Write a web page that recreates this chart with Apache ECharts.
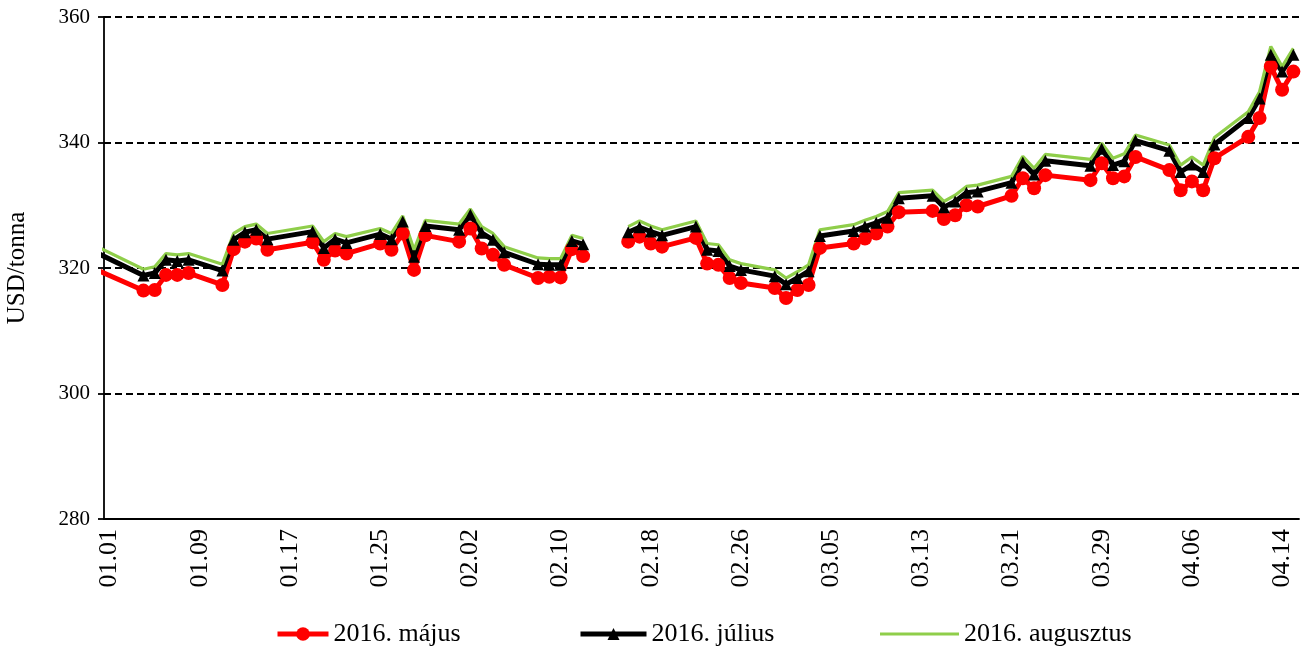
<!DOCTYPE html>
<html>
<head>
<meta charset="utf-8">
<script src="https://cdn.jsdelivr.net/npm/echarts@6/dist/echarts.min.js"></script>
<style>
html, body { margin: 0; padding: 0; background: #fff; }
#chart { width: 1304px; height: 656px; }
</style>
</head>
<body>
<div id="chart"></div>
<script>
// kereskedési napok (12.31 = előző év utolsó napja, a tengely előtt)
var tradeDates = ['12.31','01.04','01.05','01.06','01.07','01.08','01.11','01.12','01.13','01.14','01.15',
	'01.19','01.20','01.21','01.22','01.25','01.26','01.27','01.28','01.29',
	'02.01','02.02','02.03','02.04','02.05','02.08','02.09','02.10','02.11','02.12','02.15',
	'02.16','02.17','02.18','02.19','02.22','02.23','02.24','02.25','02.26','02.29',
	'03.01','03.02','03.03','03.04','03.07','03.08','03.09','03.10','03.11',
	'03.14','03.15','03.16','03.17','03.18','03.21','03.22','03.23','03.24','03.28','03.29','03.30','03.31',
	'04.01','04.04','04.05','04.06','04.07','04.08','04.11','04.12','04.13','04.14','04.15'];

var majus = [319.6,316.4,316.5,318.9,318.9,319.2,317.3,323.0,324.2,324.7,322.9,
	324.1,321.3,322.8,322.3,323.9,322.9,325.5,319.7,325.2,
	324.2,326.3,323.1,322.1,320.5,318.4,318.6,318.5,323.0,321.9,null,
	324.2,325.0,323.9,323.4,324.8,320.7,320.5,318.4,317.6,316.8,
	315.2,316.5,317.3,323.2,323.9,324.7,325.5,326.6,328.9,
	329.1,327.8,328.4,330.0,329.8,331.5,334.3,332.7,334.8,334.0,336.7,334.3,334.6,
	337.7,335.6,332.4,333.8,332.4,337.5,340.9,343.9,352.1,348.4,351.3];

var julius = [322.3,318.8,319.2,321.3,321.1,321.3,319.6,324.5,325.7,326.1,324.6,
	325.8,323.2,324.6,324.0,325.4,324.6,327.4,321.8,326.7,
	326.1,328.5,325.6,324.5,322.5,320.6,320.5,320.5,324.3,323.8,null,
	325.7,326.5,325.8,325.2,326.6,322.9,322.7,320.3,319.7,318.7,
	317.4,318.4,319.5,325.1,325.9,326.6,327.2,328.0,331.1,
	331.5,329.7,330.6,332.0,332.2,333.6,336.8,334.9,337.1,336.3,339.0,336.4,337.0,
	340.3,338.7,335.3,336.5,335.3,339.7,343.9,347.0,354.0,351.3,354.0];

var augusztus = [323.3,319.8,320.2,322.3,322.1,322.3,320.6,325.5,326.6,327.0,325.5,
	326.7,324.2,325.5,325.0,326.3,325.5,328.3,322.9,327.6,
	327.0,329.4,326.6,325.5,323.4,321.6,321.5,321.5,325.2,324.7,null,
	326.6,327.5,326.7,326.1,327.5,323.9,323.7,321.3,320.7,319.7,
	318.4,319.4,320.5,326.1,326.9,327.6,328.2,329.0,332.0,
	332.4,330.6,331.6,333.0,333.2,334.6,337.8,335.9,338.1,337.3,339.9,337.5,338.2,
	341.2,339.6,336.4,337.7,336.4,340.8,344.9,348.1,355.3,352.1,355.0];

var seriesNames = ['2016. május', '2016. július', '2016. augusztus'];
var yTicks = { min: 280, max: 360, step: 20 };

var fontFamily = '"Liberation Serif", "Times New Roman", serif';

var lineChart = {
	dayCount: 106,
	/**
	 * napok címkéi 01.01 - 04.15
	 */
	dayLabels: function() {
		var labels = [];
		for (var i = 0; i < lineChart.dayCount; i++) {
			var d = new Date(Date.UTC(2016, 0, 1 + i));
			var m = d.getUTCMonth() + 1, n = d.getUTCDate();
			labels.push((m < 10 ? '0' : '') + m + '.' + (n < 10 ? '0' : '') + n);
		}
		return labels;
	},
	/**
	 * dátum -> nap sorszáma (01.01 = 0)
	 */
	dayIndex: function(s) {
		var p = s.split('.');
		var m = +p[0], d = +p[1];
		var y = m == 12 ? 2015 : 2016;
		return (Date.UTC(y, m - 1, d) - Date.UTC(2016, 0, 1)) / 86400000;
	},
	toPairs: function(values) {
		var ret = [];
		for (var i = 0; i < tradeDates.length; i++) {
			ret.push([lineChart.dayIndex(tradeDates[i]) + 0.5, values[i] == null ? '-' : values[i]]);
		}
		return ret;
	},
	legendItem: function(item, left, width, height) {
		return {
			data: [item],
			left: left,
			top: 621,
			padding: 0,
			itemWidth: width,
			itemHeight: height,
			lineStyle: { width: 5 },
			textStyle: { fontFamily: fontFamily, fontSize: 26, color: '#000' }
		};
	},
	show: function() {
		var myChart = echarts.init(document.getElementById('chart'));
		var option = {
			animation: false,
			backgroundColor: '#fff',
			grid: { left: 104, right: 5, top: 17, bottom: 137, containLabel: false, outerBoundsMode: 'none' },
			legend: [
				lineChart.legendItem({ name: seriesNames[0] }, 275, 51, 17),
				lineChart.legendItem({ name: seriesNames[1] }, 578, 66, 15),
				lineChart.legendItem({ name: seriesNames[2], icon: 'rect' }, 880, 79, 3)
			],
			xAxis: [
				{
					type: 'category',
					data: lineChart.dayLabels(),
					boundaryGap: true,
					axisLine: { lineStyle: { color: '#000', width: 1.8 } },
					axisTick: { interval: 7, length: 6, lineStyle: { color: '#000', width: 1.8 } },
					axisLabel: {
						interval: 7, rotate: 90, margin: 10,
						color: '#000', fontFamily: fontFamily, fontSize: 26
					},
					splitLine: { show: false }
				},
				{
					type: 'value',
					min: 0,
					max: lineChart.dayCount,
					show: false
				}
			],
			yAxis: {
				type: 'value',
				min: yTicks.min,
				max: yTicks.max,
				interval: yTicks.step,
				name: 'USD/tonna',
				nameLocation: 'middle',
				nameGap: 74,
				nameRotate: 90,
				nameTextStyle: { color: '#000', fontFamily: fontFamily, fontSize: 25 },
				axisLine: { show: true, lineStyle: { color: '#000', width: 1.8 } },
				axisTick: { show: true, length: 6, lineStyle: { color: '#000', width: 1.8 } },
				axisLabel: { color: '#000', fontFamily: fontFamily, fontSize: 21, margin: 14 },
				splitLine: { lineStyle: { color: '#000', width: 1.8, type: [7, 4] } }
			},
			series: [
				{
					name: seriesNames[0],
					type: 'line',
					xAxisIndex: 1,
					data: lineChart.toPairs(majus),
					color: '#ff0000',
					lineStyle: { width: 5 },
					symbol: 'circle',
					symbolSize: 14,
					itemStyle: { color: '#ff0000' }
				},
				{
					name: seriesNames[1],
					type: 'line',
					xAxisIndex: 1,
					data: lineChart.toPairs(julius),
					color: '#000',
					lineStyle: { width: 5 },
					symbol: 'triangle',
					symbolSize: 12,
					itemStyle: { color: '#000' }
				},
				{
					name: seriesNames[2],
					type: 'line',
					xAxisIndex: 1,
					data: lineChart.toPairs(augusztus),
					color: '#8fce4a',
					lineStyle: { width: 3.2 },
					symbol: 'none',
					itemStyle: { color: '#8fce4a' }
				}
			]
		};
		myChart.setOption(option);
	}
};

lineChart.show();
</script>
</body>
</html>
